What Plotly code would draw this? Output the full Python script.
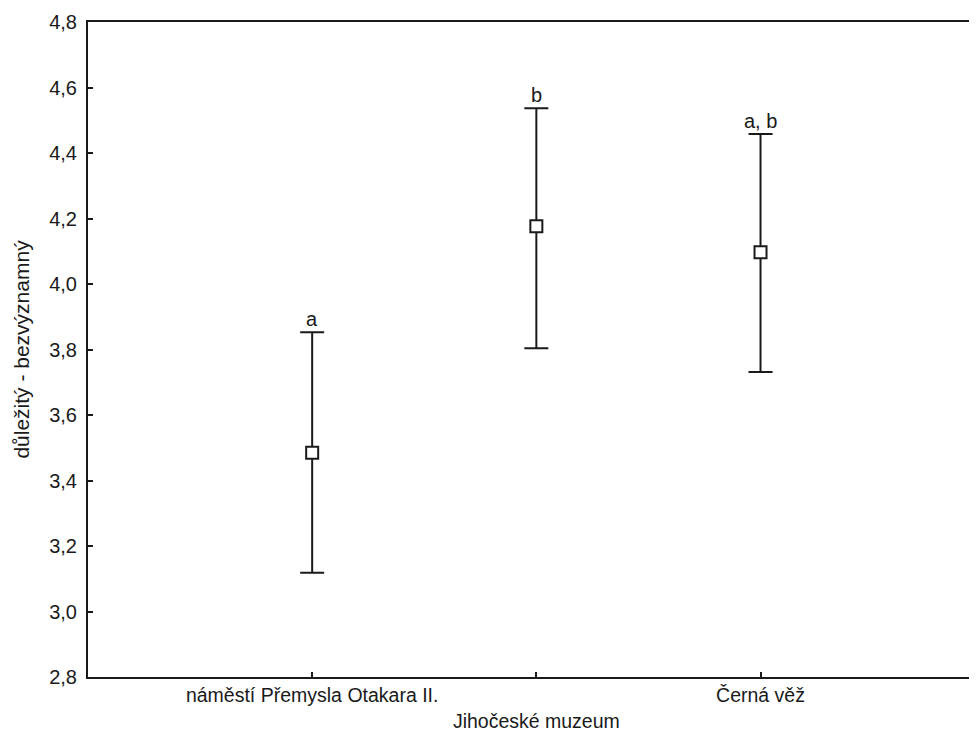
import plotly.graph_objects as go

# group means with 95% CI bounds
categories = ["náměstí Přemysla Otakara II.", "Jihočeské muzeum", "Černá věž"]
positions = [1, 2, 3]
means = [3.485, 4.176, 4.097]
upper = [3.853, 4.537, 4.458]
lower = [3.118, 3.804, 3.731]
letters = ["a", "b", "a, b"]

y_ticks = [2.8, 3.0, 3.2, 3.4, 3.6, 3.8, 4.0, 4.2, 4.4, 4.6, 4.8]

FONT = "Arial, Liberation Sans, sans-serif"
INK = "#1a1a1a"

err_plus = [u - m for u, m in zip(upper, means)]
err_minus = [m - l for m, l in zip(means, lower)]

# stagger the middle label onto a second line like the original
ticktext = [c if i != 1 else "<br>" + c for i, c in enumerate(categories)]

fig = go.Figure(go.Scatter(
    x=positions, y=means, mode="markers",
    marker=dict(symbol="square", size=12, color="white",
                line=dict(color=INK, width=2)),
    error_y=dict(type="data", symmetric=False, array=err_plus,
                 arrayminus=err_minus, color=INK, thickness=2, width=12),
    showlegend=False, hoverinfo="skip"))

for x, u, t in zip(positions, upper, letters):
    fig.add_annotation(x=x, y=u, text=t, showarrow=False, yanchor="bottom",
                       yshift=0, font=dict(family=FONT, size=20, color=INK))

# page body adds an 8px margin, so the figure is sized to fit inside it
fig.update_layout(
    width=961, height=724,
    margin=dict(l=80, r=0, t=14, b=55),
    paper_bgcolor="white", plot_bgcolor="white",
    separators=",.",
    font=dict(family=FONT, size=20, color=INK),
    xaxis=dict(range=[0, 3.93], tickvals=positions, ticktext=ticktext,
               showgrid=False, zeroline=False, showline=True, linecolor=INK,
               linewidth=2, mirror=True, ticks="inside", ticklen=5,
               tickwidth=1.5, tickcolor=INK, ticklabelstandoff=0,
               tickfont=dict(size=19.5), automargin=False),
    yaxis=dict(range=[2.8, 4.8], tickvals=y_ticks, tickformat=".1f",
               showgrid=False, zeroline=False, showline=True, linecolor=INK,
               linewidth=2, ticks="inside", ticklen=5, tickwidth=1.5,
               tickcolor=INK, ticklabelstandoff=5, automargin=False,
               title=dict(text="důležitý - bezvýznamný", standoff=14,
                          font=dict(size=21))),
)

fig.write_html("out.html")
